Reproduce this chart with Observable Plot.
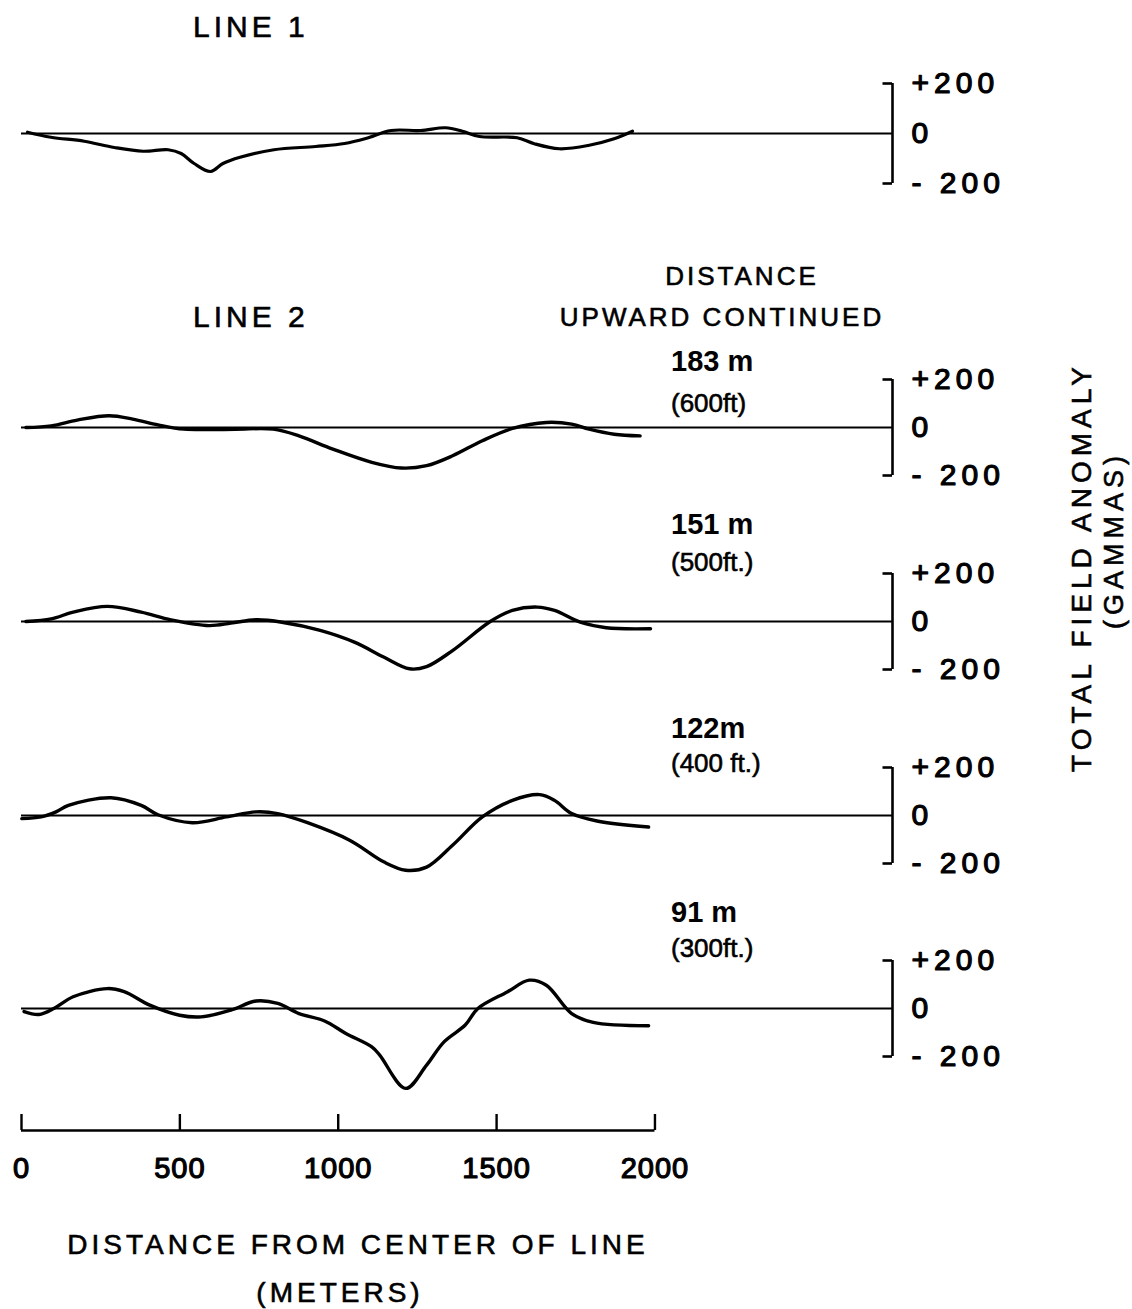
<!DOCTYPE html>
<html>
<head>
<meta charset="utf-8">
<script src="https://cdn.jsdelivr.net/npm/d3@7"></script>
<script src="https://cdn.jsdelivr.net/npm/@observablehq/plot@0.6"></script>
<style>
  html, body { margin: 0; padding: 0; background: #fff; }
  #chart { position: relative; width: 1132px; height: 1309px; background: #fff; overflow: hidden;
           font-family: "Liberation Sans", Arial, sans-serif; color: #000; }
  #chart svg { position: absolute; left: 0; }
  .lbl, .ctr, .rot { position: absolute; white-space: nowrap; line-height: 1; -webkit-text-stroke: 0.6px #000; }
  .lbl { transform: translate(0, -50%); }
  .ctr { transform: translate(-50%, -50%); }
  .rot { transform: translate(-50%, -50%) rotate(-90deg); }
</style>
</head>
<body>
<div id="chart">
  <div class="lbl" style="left:193px; top:27px; font-size:30px; letter-spacing:4px;">LINE 1</div>
  <div class="lbl" style="left:193px; top:317px; font-size:30px; letter-spacing:4px;">LINE 2</div>
  <div class="ctr" style="left:742px; top:276px; font-size:26px; letter-spacing:3px;">DISTANCE</div>
  <div class="ctr" style="left:722px; top:317px; font-size:26px; letter-spacing:3px;">UPWARD CONTINUED</div>

  <div class="lbl" style="left:671px; top:361px; font-size:29px; font-weight:bold; -webkit-text-stroke:0;">183 m</div>
  <div class="lbl" style="left:671px; top:403px; font-size:26px;">(600ft)</div>
  <div class="lbl" style="left:671px; top:524px; font-size:29px; font-weight:bold; -webkit-text-stroke:0;">151 m</div>
  <div class="lbl" style="left:671px; top:562px; font-size:26px;">(500ft.)</div>
  <div class="lbl" style="left:671px; top:728px; font-size:29px; font-weight:bold; -webkit-text-stroke:0;">122m</div>
  <div class="lbl" style="left:671px; top:763px; font-size:26px;">(400 ft.)</div>
  <div class="lbl" style="left:671px; top:912px; font-size:29px; font-weight:bold; -webkit-text-stroke:0;">91 m</div>
  <div class="lbl" style="left:671px; top:948px; font-size:26px;">(300ft.)</div>

  <div class="ctr" style="left:358px; top:1245px; font-size:28px; letter-spacing:4px;">DISTANCE FROM CENTER OF LINE</div>
  <div class="ctr" style="left:340px; top:1293px; font-size:28px; letter-spacing:4px;">(METERS)</div>

  <div class="rot" style="left:1082px; top:567px; font-size:28px; letter-spacing:5px;">TOTAL FIELD ANOMALY</div>
  <div class="rot" style="left:1114px; top:540px; font-size:27px; letter-spacing:5px;">(GAMMAS)</div>
</div>
<script>
// ---------- data (distance from center of line in metres, total field anomaly in gammas) ----------
const line1Dist   = [19, 93, 198, 293, 384, 463, 504, 545, 597, 636, 690, 797, 929, 1020, 1087, 1167, 1260, 1339, 1392, 1446, 1565, 1619, 1698, 1789, 1871, 1929];
const line1Gamma  = [5, -15, -31, -56, -71, -65, -80, -120, -152, -120, -95, -65, -52, -40, -20, 12, 12, 23, 9, -12, -17, -41, -61, -48, -21, 9];

const up183Dist   = [14, 94, 176, 277, 351, 431, 513, 674, 795, 876, 983, 1106, 1199, 1279, 1361, 1455, 1550, 1657, 1737, 1792, 1871, 1953];
const up183Gamma  = [0, 7, 31, 49, 35, 11, -7, -7, -7, -35, -90, -145, -169, -159, -118, -55, -4, 21, 14, -7, -28, -35];

const up151Dist   = [14, 94, 163, 271, 378, 472, 592, 661, 740, 822, 943, 1051, 1145, 1225, 1279, 1361, 1480, 1550, 1628, 1683, 1764, 1846, 1986];
const up151Gamma  = [0, 11, 39, 63, 39, 7, -17, -7, 7, -3, -37, -86, -149, -197, -188, -121, 0, 46, 60, 46, -3, -26, -30];

const up122Dist   = [1, 62, 109, 148, 283, 378, 431, 539, 647, 740, 809, 903, 1036, 1145, 1213, 1279, 1361, 1455, 1550, 1636, 1683, 1737, 1817, 1980];
const up122Gamma  = [-13, -6, 15, 42, 74, 42, 3, -30, -6, 15, 8, -30, -103, -194, -228, -215, -124, -6, 63, 87, 63, 8, -23, -48];

const up91Dist    = [8, 55, 102, 163, 271, 324, 405, 499, 567, 661, 740, 809, 876, 957, 1024, 1106, 1131, 1213, 1279, 1334, 1401, 1441, 1535, 1603, 1657, 1737, 1805, 1980];
const up91Gamma   = [-13, -25, 0, 49, 83, 70, 14, -28, -35, -7, 31, 21, -21, -52, -104, -160, -194, -333, -236, -139, -69, 0, 70, 118, 97, -21, -58, -72];

const gammaTicks  = [200, 0, -200];
const gammaLabels = ["+200", "0", "- 200"];
const distTicks   = [0, 500, 1000, 1500, 2000];
const distLabels  = ["0", "500", "1000", "1500", "2000"];

// ---------- layout ----------
const W = 1132, ML = 21, MR = 240;
const X_DOMAIN = [0, 2750];      // metres; right end is where the gamma bracket stands
const bracketAt = 2750;
const bracketTick = 30;
const chart = document.getElementById("chart");
const FONT = "'Liberation Sans', Arial, sans-serif";

function series(dist, gamma) { return dist.map((d, i) => ({d, g: gamma[i]})); }

const panels = [
  {data: series(line1Dist, line1Gamma), base: 133, half: 50, sw: 3.2},
  {data: series(up183Dist, up183Gamma), base: 427, half: 48, sw: 3.4},
  {data: series(up151Dist, up151Gamma), base: 621, half: 48, sw: 3.4},
  {data: series(up122Dist, up122Gamma), base: 815, half: 48, sw: 3.4},
  {data: series(up91Dist, up91Gamma),   base: 1008, half: 48, sw: 3.4}
];

const tickData = gammaTicks.map((v, i) => ({v, t: gammaLabels[i]}));

for (const p of panels) {
  const mt = 30, mb = 100;
  const svg = Plot.plot({
    width: W, height: mt + 2 * p.half + mb,
    marginTop: mt, marginBottom: mb, marginLeft: ML, marginRight: MR,
    x: {domain: X_DOMAIN, axis: null},
    y: {domain: [-200, 200], axis: null},
    style: {background: "transparent", overflow: "visible", color: "#000", letterSpacing: "5px",
            fontFamily: FONT},
    marks: [
      Plot.ruleY([0], {x1: 0, x2: bracketAt, stroke: "#000", strokeWidth: 1.8}),
      Plot.ruleX([bracketAt], {y1: -200, y2: 200, stroke: "#000", strokeWidth: 2.6}),
      Plot.ruleY([-200, 200], {x1: bracketAt - bracketTick, x2: bracketAt, stroke: "#000", strokeWidth: 2.6}),
      Plot.line(p.data, {x: "d", y: "g", curve: "catmull-rom", stroke: "#000", strokeWidth: p.sw,
                         strokeLinejoin: "round", strokeLinecap: "round"}),
      Plot.text(tickData, {x: bracketAt, y: "v", text: "t", dx: 19, textAnchor: "start",
                           fontSize: 30, fill: "#000", stroke: "#000", strokeWidth: 1.2})
    ]
  });
  svg.style.top = (p.base - p.half - mt) + "px";
  chart.appendChild(svg);
}

// ---------- distance scale bar ----------
const distData = distTicks.map((v, i) => ({v, t: distLabels[i]}));
const axisSvg = Plot.plot({
  width: W, height: 90,
  marginTop: 14, marginBottom: 60, marginLeft: ML, marginRight: MR,
  x: {domain: X_DOMAIN, axis: null},
  y: {domain: [0, 1], axis: null},
  style: {background: "transparent", overflow: "visible", color: "#000", letterSpacing: "1px",
          fontFamily: FONT},
  marks: [
    Plot.ruleY([0], {x1: distTicks[0], x2: distTicks[distTicks.length - 1], stroke: "#000", strokeWidth: 2.4}),
    Plot.ruleX(distTicks, {y1: 0, y2: 1, stroke: "#000", strokeWidth: 2.4}),
    Plot.text(distData, {x: "v", y: 0, text: "t", dy: 38, fontSize: 29, fill: "#000",
                         stroke: "#000", strokeWidth: 1.2})
  ]
});
axisSvg.style.top = (1130 - 30) + "px";
chart.appendChild(axisSvg);
</script>
</body>
</html>
